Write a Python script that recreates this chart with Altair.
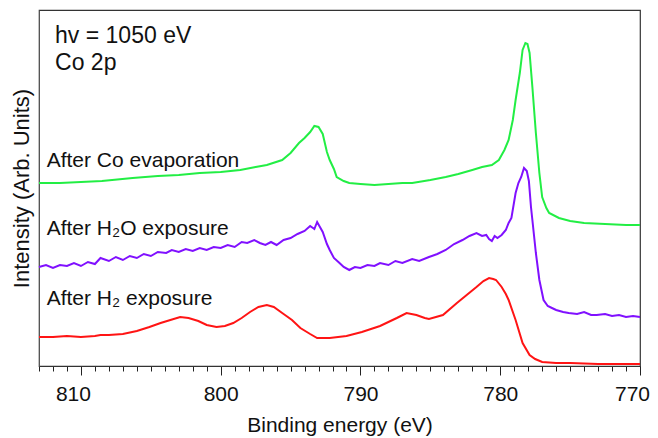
import altair as alt
import pandas as pd

# ---- data (binding energy in eV, intensity in arbitrary units) ----
green_e = [813.0, 811.5, 810.0, 808.5, 806.3, 804.5, 803.0, 801.5, 800.0, 798.6, 797.5, 796.7, 795.6, 795.0,
           794.4, 794.0, 793.6, 793.3, 793.0, 792.7, 792.4, 792.2, 791.9, 791.7, 791.2, 790.8, 790.0, 789.0,
           788.0, 787.0, 786.3, 785.0, 783.9, 783.0, 782.0, 781.3, 780.6, 780.1, 779.7, 779.4, 779.1, 778.9,
           778.6, 778.4, 778.2, 778.05, 777.9, 777.7, 777.45, 777.2, 777.0, 776.7, 776.5, 775.8, 775.0, 774.0,
           772.5, 771.0, 770.0]
green_i = [183, 183, 184, 185, 188, 190, 191, 193, 194, 196, 199, 201, 206, 213,
           223, 228, 234, 240, 239, 232, 214, 206, 197, 189, 185, 183, 182, 181,
           182, 183, 183, 186, 189, 192, 196, 199, 201, 206, 216, 226, 246, 266,
           293, 316, 323, 322, 313, 279, 233, 193, 169, 158, 153, 148, 145, 143,
           142, 141, 141]

purple_e = [813.0, 812.5, 812.0, 811.5, 811.0, 810.5, 810.0, 809.5, 809.0, 808.6, 808.0, 807.5, 807.0, 806.5,
            806.0, 805.5, 805.0, 804.5, 803.9, 803.5, 803.0, 802.5, 802.0, 801.5, 801.0, 800.5, 800.0, 799.5,
            799.0, 798.5, 798.1, 797.6, 797.2, 796.8, 796.4, 796.0, 795.5, 795.0, 794.5, 794.0, 793.6, 793.3,
            793.1, 792.9, 792.7, 792.4, 792.2, 791.9, 791.5, 791.2, 790.8, 790.4, 790.0, 789.5, 789.0, 788.6,
            788.0, 787.5, 787.0, 786.3, 785.8, 785.1, 784.5, 783.9, 783.3, 782.7, 782.2, 781.7, 781.3, 781.0,
            780.8, 780.6, 780.4, 780.2, 779.9, 779.6, 779.4, 779.2, 778.9, 778.7, 778.5, 778.3, 778.1, 777.95,
            777.8, 777.7, 777.45, 777.2, 776.9, 776.6, 776.3, 776.0, 775.5, 775.1, 774.5, 774.0, 773.5, 773.1,
            772.5, 772.0, 771.5, 771.0, 770.5, 770.0]
purple_i = [99, 101, 98, 101, 100, 103, 100, 104, 102, 108, 105, 109, 106, 110,
            108, 112, 110, 114, 113, 116, 114, 117, 115, 118, 116, 119, 118, 121,
            119, 124, 123, 126, 123, 121, 124, 121, 126, 128, 132, 135, 140, 137,
            144, 139, 134, 122, 116, 108, 103, 99, 96, 99, 98, 101, 100, 103,
            101, 105, 103, 107, 105, 109, 112, 116, 122, 126, 130, 133, 130, 131,
            127, 125, 130, 128, 131, 136, 143, 148, 173, 183, 189, 198, 195, 185,
            159, 146, 113, 86, 66, 60, 58, 56, 54, 53, 52, 54, 51, 51,
            52, 50, 51, 49, 50, 49]

red_e = [813.0, 812.0, 811.0, 810.0, 809.0, 808.6, 808.0, 807.0, 806.0, 805.1, 804.3, 803.6, 802.9, 802.3,
         801.6, 801.0, 800.3, 799.7, 799.1, 798.5, 797.9, 797.3, 796.7, 796.2, 795.6, 794.9, 794.3, 793.6,
         793.1, 792.2, 791.0, 789.9, 788.6, 787.4, 786.7, 786.0, 785.4, 785.1, 784.6, 784.1, 783.1, 782.4,
         781.7, 781.2, 780.8, 780.5, 780.3, 779.9, 779.6, 779.4, 778.9, 778.4, 777.9, 777.5, 777.0, 776.0,
         775.0, 773.0, 771.0, 770.0]
red_i = [29, 29, 30, 29, 30, 31, 31, 32, 35, 39, 43, 46, 49, 48,
         45, 41, 39, 40, 43, 48, 54, 59, 61, 59, 53, 46, 38, 32,
         28, 28, 30, 34, 40, 48, 53, 51, 48, 47, 49, 51, 63, 71,
         79, 85, 88, 87, 86, 79, 72, 66, 46, 23, 11, 7, 4, 3,
         3, 2, 2, 2]

series_names = ["After Co evaporation", "After H\u2082O exposure", "After H\u2082 exposure"]
series_colors = ["#22ee44", "#8010ff", "#ff1414"]

# annotations (position in data coordinates)
note_text = ["hv = 1050 eV", "Co 2p", "After Co evaporation", "After H\u2082O exposure", "After H\u2082 exposure"]
note_e = [811.85, 811.85, 812.45, 812.45, 812.45]
note_i = [323, 296, 199, 131, 61]
note_size = [23, 23, 21, 21, 21]

x_ticks = list(range(770, 814))

FONT = "Liberation Sans, Arial, sans-serif"

rows = []
for name, es, vs in zip(series_names, [green_e, purple_e, red_e], [green_i, purple_i, red_i]):
    for e, v in zip(es, vs):
        rows.append({"series": name, "energy": e, "intensity": v})
df = pd.DataFrame(rows)

notes = pd.DataFrame({"text": note_text, "energy": note_e, "intensity": note_i, "size": note_size})

x_scale = alt.Scale(domain=[770, 813], reverse=True, nice=False, zero=False)
y_scale = alt.Scale(domain=[0, 356], nice=False, zero=False)

x_axis = alt.Axis(
    title="Binding energy (eV)",
    values=x_ticks,
    labelExpr="datum.value % 10 === 0 ? datum.label : ''",
    tickSize={"condition": {"test": "datum.value % 10 === 0", "value": 9}, "value": 5},
    labelOffset={"condition": {"test": "datum.value === 770 || datum.value === 810",
                               "value": -8}, "value": 0},
    tickColor="#222",
    domainColor="#333",
    labelFontSize=21,
    labelFont=FONT,
    labelColor="#111",
    labelPadding=8,
    labelFlush=False,
    labelOverlap=False,
    labelBound=False,
    titleFontSize=21,
    titleFont=FONT,
    titleFontWeight="normal",
    titleColor="#111",
    titlePadding=10,
    grid=False,
)

y_axis = alt.Axis(
    title="Intensity (Arb. Units)",
    labels=False,
    ticks=False,
    domainColor="#555",
    titleFontSize=22,
    titleFont=FONT,
    titleFontWeight="normal",
    titleColor="#111",
    titlePadding=6,
    grid=False,
)

lines = alt.Chart(df).mark_line(strokeWidth=2, interpolate="linear").encode(
    x=alt.X("energy:Q", scale=x_scale, axis=x_axis),
    y=alt.Y("intensity:Q", scale=y_scale, axis=y_axis),
    color=alt.Color("series:N", scale=alt.Scale(domain=series_names, range=series_colors), legend=None),
    detail="series:N",
)

texts = alt.Chart(notes).mark_text(align="left", baseline="alphabetic", font=FONT, color="#111").encode(
    x=alt.X("energy:Q", scale=x_scale, axis=x_axis),
    y=alt.Y("intensity:Q", scale=y_scale, axis=y_axis),
    text="text:N",
    size=alt.Size("size:Q", scale=None, legend=None),
)

chart = alt.layer(lines, texts).properties(
    width=601,
    height=356,
    autosize=alt.AutoSizeParams(type="none"),
    padding={"left": 31, "top": 2, "right": 10, "bottom": 72},
).configure_view(stroke="#333", strokeWidth=1.2).configure_axisX(labelOverlap=False)

chart.save("out.html", embed_options={"renderer": "svg", "actions": False})
